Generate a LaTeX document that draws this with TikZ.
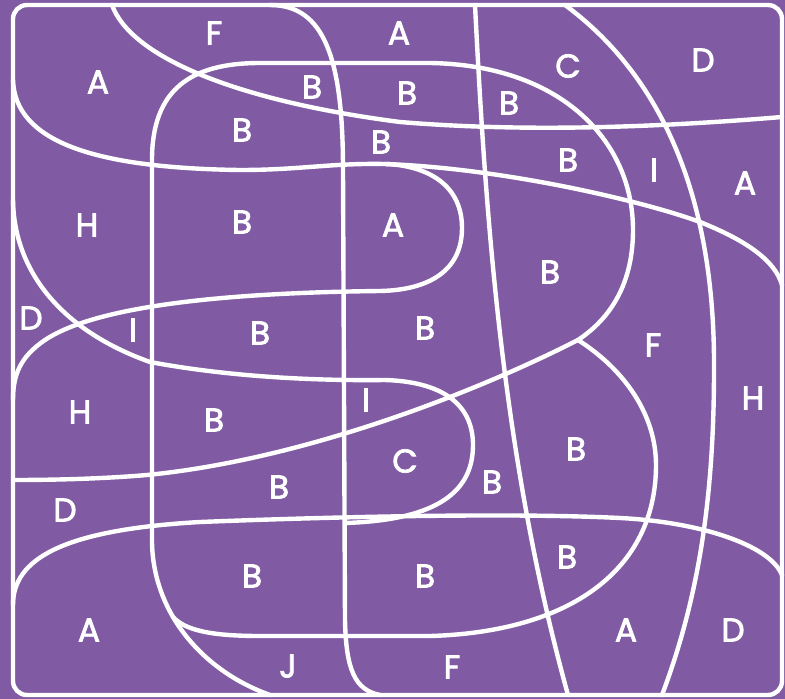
\documentclass[tikz,border=0pt]{standalone}
\usepackage{fontspec}
\setmainfont{Poppins}[FakeBold=2.2]
\usepackage{xcolor}
\usepackage{tikz}
\usetikzlibrary{positioning}

\definecolor{plum}{RGB}{128,91,163}

\begin{document}
\begin{tikzpicture}[
        x=1pt, y=-1pt,
        edge/.style={draw=white, line width=4.4pt, line cap=round, line join=round},
        lbl/.style={text=white, font=\fontsize{33}{36}\selectfont, inner sep=0pt}
    ]

    % background and frame
    \fill[plum] (0,0) rectangle (785,699);
    \useasboundingbox (0,0) rectangle (785,699);
    \draw[edge, rounded corners=14pt] (13,5) rectangle (782,695);

    % curves
    \draw[edge] (112,5) .. controls (130,55) and (230,100) .. (400,122)
        .. controls (520,132) and (650,128) .. (782,117);
    \draw[edge] (13,80) .. controls (15,140) and (90,168) .. (240,170)
        .. controls (300,170) and (330,163) .. (385,164)
        .. controls (500,168) and (640,200) .. (700,222)
        .. controls (745,240) and (775,260) .. (782,285);
    \draw[edge] (385,164) .. controls (420,165) and (462,180) .. (462,228)
        .. controls (462,270) and (430,290) .. (380,291)
        .. controls (200,293) and (90,310) .. (45,340)
        .. controls (20,357) and (13,375) .. (13,400);
    \draw[edge] (13,200) .. controls (14,270) and (60,330) .. (150,362)
        .. controls (220,375) and (300,381) .. (385,380)
        .. controls (450,382) and (473,410) .. (473,445)
        .. controls (473,490) and (440,520) .. (345,523);
    \draw[edge] (13,605) .. controls (13,560) and (60,530) .. (200,522)
        .. controls (300,518) and (500,512) .. (620,518)
        .. controls (700,522) and (770,545) .. (782,575);
    \draw[edge] (270,5) .. controls (325,5) and (343,60) .. (343,170)
        -- (345,620) .. controls (346,670) and (355,690) .. (380,695);
    \draw[edge] (475,5) .. controls (485,200) and (500,450) .. (568,695);
    \draw[edge] (565,5) .. controls (680,90) and (715,230) .. (714,370)
        .. controls (714,500) and (698,600) .. (662,695);
    \draw[edge] (270,695) .. controls (200,670) and (152,610) .. (152,540)
        -- (152,160) .. controls (152,90) and (190,63) .. (260,63)
        -- (430,63) .. controls (560,65) and (633,140) .. (633,230)
        .. controls (633,290) and (605,322) .. (578,340)
        .. controls (470,395) and (300,460) .. (147,475)
        .. controls (100,479) and (50,480) .. (13,480);
    \draw[edge] (578,340) .. controls (625,370) and (656,415) .. (656,465)
        .. controls (656,570) and (570,632) .. (430,636)
        -- (260,636) .. controls (210,636) and (185,630) .. (173,617);

    % region letters
    \node[lbl] (fTop) at (214,33) {F};
    \node[lbl] (aTop) at (399,33) {A};
    \node[lbl] (cTop) at (568,66) {C};
    \node[lbl] (dTop) at (703,60) {D};
    \node[lbl] (aNW) at (98,82) {A};
    \node[lbl] (bTopA) at (312,87) {B};
    \node[lbl] (bTopB) at (407,93) {B};
    \node[lbl] (bTopC) at (509,103) {B};
    \node[lbl] (bUpL) at (242,130) {B};
    \node[lbl] (bUpM) at (381,142) {B};
    \node[lbl] (bUpR) at (568,160) {B};
    \node[lbl] (iUpR) at (654,170) {I};
    \node[lbl] (aEast) at (745,183) {A};
    \node[lbl] (hWest) at (87,225) {H};
    \node[lbl] (bMidL) at (242,222) {B};
    \node[lbl] (aMid) at (393,225) {A};
    \node[lbl] (bMidR) at (550,272) {B};
    \node[lbl] (dWest) at (31,318) {D};
    \node[lbl] (iWest) at (133,330) {I};
    \node[lbl] (bCtrL) at (260,333) {B};
    \node[lbl] (bCtrR) at (425,328) {B};
    \node[lbl] (fEast) at (653,345) {F};
    \node[lbl] (hLow) at (80,412) {H};
    \node[lbl] (bLowL) at (214,420) {B};
    \node[lbl] (iCtr) at (366,400) {I};
    \node[lbl] (hEast) at (753,398) {H};
    \node[lbl] (cLow) at (405,461) {C};
    \node[lbl] (bLowC) at (492,482) {B};
    \node[lbl] (bLowR) at (576,449) {B};
    \node[lbl] (bLowM) at (279,487) {B};
    \node[lbl] (dLow) at (65,510) {D};
    \node[lbl] (bBotL) at (252,576) {B};
    \node[lbl] (bBotM) at (425,576) {B};
    \node[lbl] (bBotR) at (567,557) {B};
    \node[lbl] (aSW) at (89,630) {A};
    \node[lbl] (aSE) at (626,630) {A};
    \node[lbl] (dSE) at (733,630) {D};
    \node[lbl] (jBot) at (288,666) {J};
    \node[lbl] (fBot) at (452,667) {F};

\end{tikzpicture}
\end{document}
